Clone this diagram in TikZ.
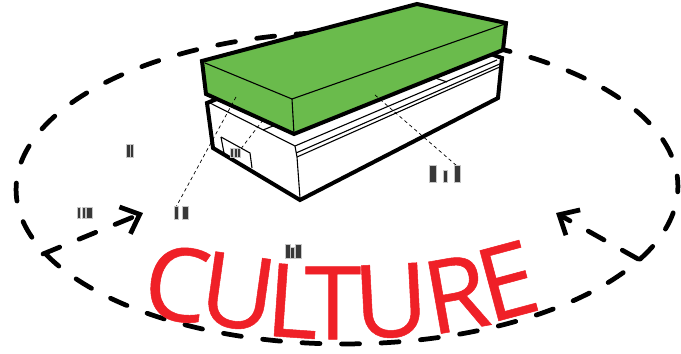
\documentclass[tikz,border=0pt]{standalone}
\usepackage{xcolor}
\usepackage{fontspec}
\newfontfamily\culturefont[FakeBold=0.5]{Open Sans}
\usepackage{tikz}
\usetikzlibrary{arrows.meta,positioning,calc}
\definecolor{roofgreen}{RGB}{106,187,76}
\definecolor{culturered}{RGB}{239,32,39}

\begin{document}
\begin{tikzpicture}[
  x=0.02cm,y=-0.02cm,
  orbit/.style={line width=0.095cm,dash pattern=on 0.36cm off 0.431cm,line cap=round},
  orbitarrow/.style={orbit,dash pattern=on 0.36cm off 0.42cm,-{Straight Barb[length=0.32cm,width=0.58cm,line width=0.095cm]}},
  heavy/.style={line width=0.08cm,line join=miter},
  fine/.style={line width=0.022cm},
  leader/.style={line width=0.014cm,dash pattern=on 0.07cm off 0.06cm},
  letter/.style={text=culturered,inner sep=0pt,font=\culturefont\fontsize{58}{58}\selectfont},
  people/.style={fill=black!78},
  peoplehalo/.style={fill=black!22}
]
  \useasboundingbox (0,0) rectangle (681,354);

  % dashed ring
  \draw[orbit,dash phase=0.16cm,rotate around={0.35:(347,188)}] (347,188) ellipse [x radius=6.62cm,y radius=3.12cm];

  % arrows on the ring
  \coordinate (leftfrom) at (43,254);
  \coordinate (lefttip) at (143,213);
  \coordinate (rightfrom) at (638,259);
  \coordinate (righttip) at (556,213);
  \draw[orbitarrow] (leftfrom) -- (lefttip);
  \draw[orbitarrow] (rightfrom) -- (righttip);

  % lower block
  \fill[white] (207,103) -- (222,97) -- (488,53) -- (502,58) -- (498,98) -- (300,200) -- (213,148) -- cycle;
  \draw[heavy] (222,97) -- (207,103) -- (213,148) -- (300,200) -- (498,98) -- (502,58) -- (488,53);
  \draw[fine] (210,103) -- (295,146) -- (497,60);
  \draw[fine] (295,146) -- (297,157) -- (300,198);
  \draw[fine] (297,157) -- (502,66);
  \draw[fine] (296,153) -- (502,63);
  \draw[fine] (502,63) -- (498,98);
  \draw[fine] (263,130) -- (273,126);
  \draw[fine] (435,78) -- (447,82);
  \draw[fine] (221,137) -- (250,153) -- (252,168);
  \draw[fine] (221,137) -- (224,153);

  % green slab
  \draw[heavy,fill=roofgreen] (202,61) -- (417,4) -- (506,23) -- (503,50) -- (294,134) -- (206,94) -- cycle;
  \draw[fine] (205,63) -- (292,99) -- (505,24);
  \draw[fine] (292,99) -- (294,134);

  % leaders
  \coordinate (leadA) at (236,97);
  \coordinate (leadAend) at (176,207);
  \coordinate (leadB) at (263,120);
  \coordinate (leadBend) at (240,150);
  \coordinate (leadC) at (375,95);
  \coordinate (leadCend) at (457,166);
  \draw[leader] (leadA) -- (leadAend);
  \draw[leader] (leadB) -- (leadBend);
  \draw[leader] (leadC) -- (leadCend);

  % small scale figures
  \foreach \xa/\ya/\xb/\yb in {
    127/145/129.5/157, 130.5/145/133/157,
    78/208/80/218, 83/208/85/218, 87/208/91.5/218,
    175/207/178/219, 183/207/187.5/219,
    231/149/233/157, 235/149/237/157, 238/149/240/157,
    430/166/436/182, 444/171/446.5/182, 455/166/460/182,
    286/245/290/258, 291/248/293.5/258, 296/245/301/258}
  {
    \fill[peoplehalo] (\xa-1,\ya-1) rectangle (\xb+1,\yb+1);
    \fill[people] (\xa,\ya) rectangle (\xb,\yb);
  }

  % lettering
  \node[letter,rotate=-8] (letterC) at (177,284) {C};
  \node[letter,rotate=-8] (letterU) at (238,292) {U};
  \node[letter,rotate=-4] (letterL) at (293,301) {L};
  \node[letter] (letterT) at (333,303) {T};
  \node[letter,rotate=3] (letterUb) at (391,301) {U};
  \node[letter,rotate=10] (letterR) at (456,294) {R};
  \node[letter,rotate=15] (letterE) at (507,281) {E};
\end{tikzpicture}
\end{document}
